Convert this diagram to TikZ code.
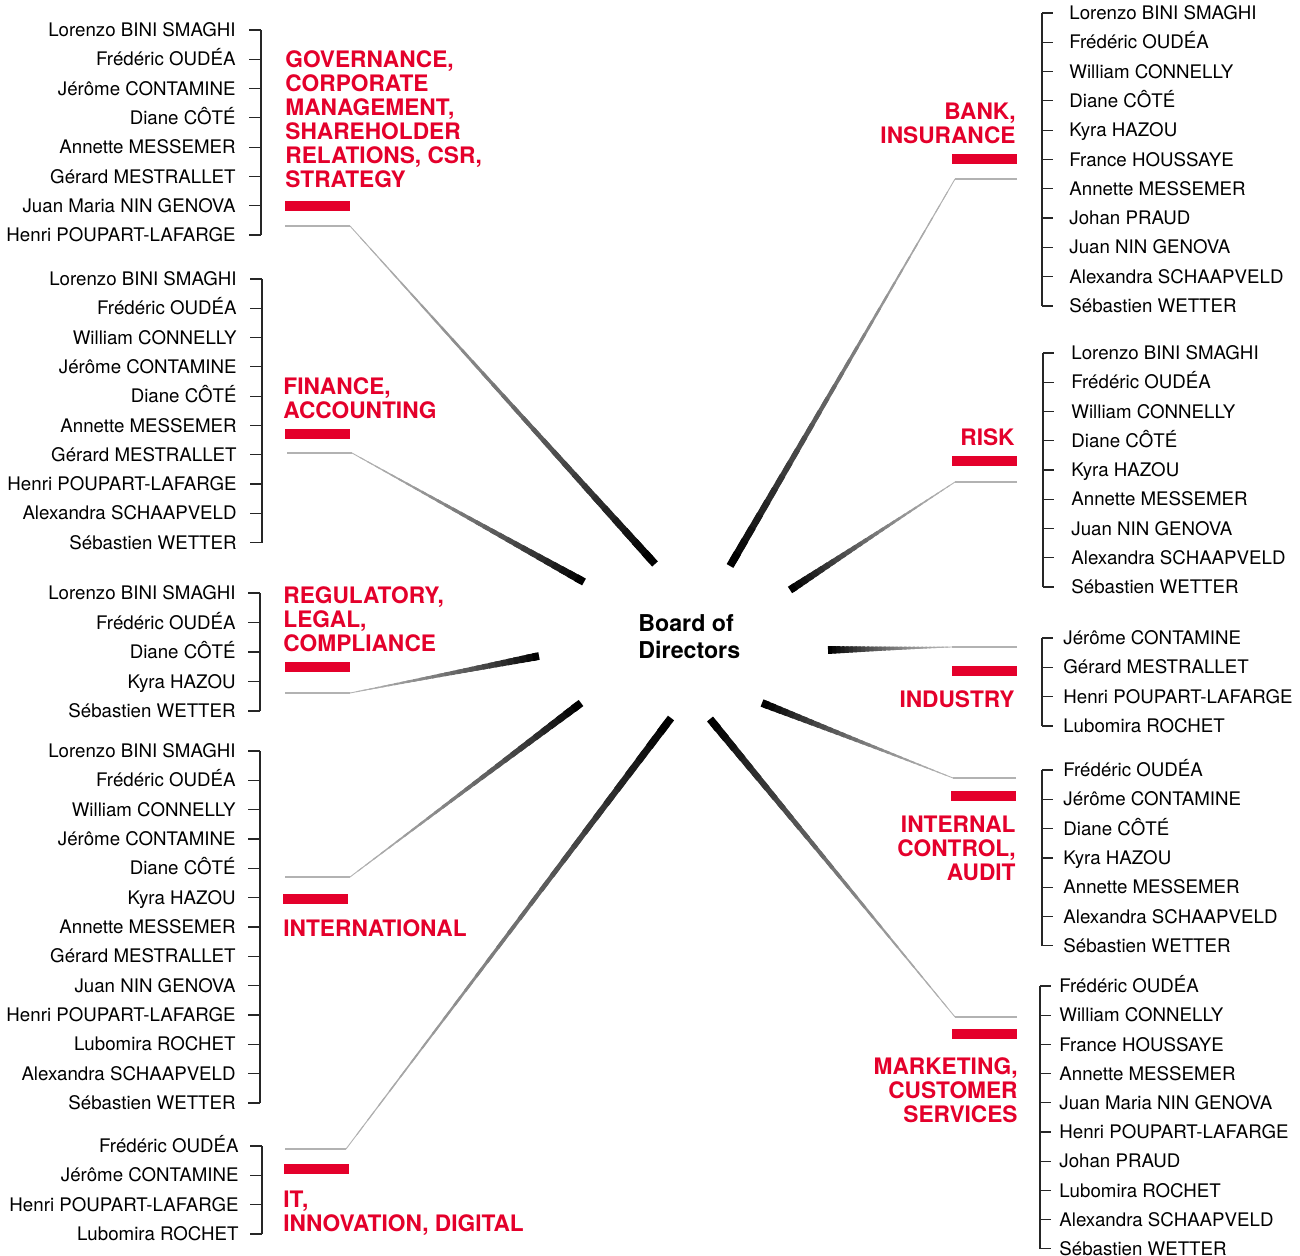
\documentclass[tikz,border=0pt]{standalone}
\usepackage{fontspec}
\setmainfont{TeX Gyre Heros}
\usetikzlibrary{calc}
\definecolor{sgred}{HTML}{E4002B}
\newcommand{\namefont}{\fontsize{9.35}{11}\selectfont}
\newcommand{\headfont}{\fontsize{11.35}{12}\selectfont\bfseries}
\newcommand{\boardfont}{\fontsize{11.6}{13.5}\selectfont\bfseries}

\begin{document}
\begin{tikzpicture}[x=0.5pt,y=-0.5pt,
  namel/.style={anchor=base east,inner sep=0pt,font=\namefont},
  namer/.style={anchor=base west,inner sep=0pt,font=\namefont},
  headl/.style={anchor=north west,align=left,inner sep=0pt,text=sgred,font=\headfont},
  headr/.style={anchor=north east,align=right,inner sep=0pt,text=sgred,font=\headfont},
  redbar/.style={fill=sgred,minimum width=32.5pt,minimum height=5pt,inner sep=0pt},
  feed/.style={black!30,line width=0.7pt},
  brack/.style={black!85,line width=0.6pt}]
\useasboundingbox (0,0) rectangle (1300,1256);

% board
\node[anchor=north west,align=left,inner sep=0pt,font=\boardfont] (board) at (638,614) {Board of\\Directors};

% committees, left side
\node[redbar] (gov-bar) at (317.5,206) {};
\node[headl] (gov-head) at (285,50) {GOVERNANCE,\\CORPORATE\\MANAGEMENT,\\SHAREHOLDER\\RELATIONS, CSR,\\STRATEGY};
\coordinate (gov-s) at (285,226);
\coordinate (gov-k) at (350,226);
\coordinate (gov-h) at (655,564);

\node[redbar] (fin-bar) at (317.5,434) {};
\node[headl] (fin-head) at (283,377) {FINANCE,\\ACCOUNTING};
\coordinate (fin-s) at (287,453);
\coordinate (fin-k) at (352,453);
\coordinate (fin-h) at (584,582);

\node[redbar] (reg-bar) at (317.5,667) {};
\node[headl] (reg-head) at (283,586) {REGULATORY,\\LEGAL,\\COMPLIANCE};
\coordinate (reg-s) at (285,693);
\coordinate (reg-k) at (350,693);
\coordinate (reg-h) at (539,656);

\node[redbar] (int-bar) at (315.5,899) {};
\node[headl] (int-head) at (283,919) {INTERNATIONAL};
\coordinate (int-s) at (285,877);
\coordinate (int-k) at (350,877);
\coordinate (int-h) at (581,703);

\node[redbar] (it-bar) at (316,1169) {};
\node[headl] (it-head) at (283,1191) {IT,\\INNOVATION, DIGITAL};
\coordinate (it-s) at (285,1149);
\coordinate (it-k) at (346,1149);
\coordinate (it-h) at (671,718);

% committees, right side
\node[redbar] (bank-bar) at (984.5,159) {};
\node[headr] (bank-head) at (1016,103) {BANK,\\INSURANCE};
\coordinate (bank-s) at (1017,179);
\coordinate (bank-k) at (955,179);
\coordinate (bank-h) at (730,566);

\node[redbar] (risk-bar) at (984.5,461) {};
\node[headr] (risk-head) at (1015,428) {RISK};
\coordinate (risk-s) at (1017,482);
\coordinate (risk-k) at (955,482);
\coordinate (risk-h) at (790,590);

\node[redbar] (ind-bar) at (984.5,671) {};
\node[headr] (ind-head) at (1015,690) {INDUSTRY};
\coordinate (ind-s) at (1017,647);
\coordinate (ind-k) at (952,647);
\coordinate (ind-h) at (828,650);

\node[redbar] (aud-bar) at (983.5,796) {};
\node[headr] (aud-head) at (1016,816) {INTERNAL\\CONTROL,\\AUDIT};
\coordinate (aud-s) at (1016,778);
\coordinate (aud-k) at (953,778);
\coordinate (aud-h) at (762,703);

\node[redbar] (mkt-bar) at (984.5,1034) {};
\node[headr] (mkt-head) at (1018,1057) {MARKETING,\\CUSTOMER\\SERVICES};
\coordinate (mkt-s) at (1017,1017);
\coordinate (mkt-k) at (955,1017);
\coordinate (mkt-h) at (710,719);

% spokes, light and thin outside, dark and thick at the board
\foreach \c in {gov,fin,reg,int,it,bank,risk,ind,aud,mkt}{
  \draw[feed] (\c-s) -- (\c-k);
  \foreach \k in {0,...,29}{
    \pgfmathsetmacro\ta{\k/30}
    \pgfmathsetmacro\tb{min(1,(\k+1.6)/30)}
    \pgfmathsetmacro\lw{0.45+3.4*(\k/29)^1.3}
    \pgfmathsetmacro\dk{30+70*(\k/29)^1.5}
    \draw[line width=\lw pt,black!\dk] ($(\c-k)!\ta!(\c-h)$) -- ($(\c-k)!\tb!(\c-h)$);
  }
}

% members, left side
\foreach \n [count=\i from 0] in {Lorenzo BINI SMAGHI, Frédéric OUDÉA, Jérôme CONTAMINE, Diane CÔTÉ,
  Annette MESSEMER, Gérard MESTRALLET, Juan Maria NIN GENOVA, Henri POUPART-LAFARGE}{
  \node[namel] (gov-m\i) at (236,{36.6+29.3*\i}) {\n};
  \draw[brack] (249,{30+29.3*\i}) -- (261,{30+29.3*\i});
}
\draw[brack] (261,30) -- (261,235.1);

\foreach \n [count=\i from 0] in {Lorenzo BINI SMAGHI, Frédéric OUDÉA, William CONNELLY, Jérôme CONTAMINE,
  Diane CÔTÉ, Annette MESSEMER, Gérard MESTRALLET, Henri POUPART-LAFARGE, Alexandra SCHAAPVELD, Sébastien WETTER}{
  \node[namel] (fin-m\i) at (237,{285.6+29.3*\i}) {\n};
  \draw[brack] (250,{279+29.3*\i}) -- (262,{279+29.3*\i});
}
\draw[brack] (262,279) -- (262,542.7);

\foreach \n [count=\i from 0] in {Lorenzo BINI SMAGHI, Frédéric OUDÉA, Diane CÔTÉ, Kyra HAZOU, Sébastien WETTER}{
  \node[namel] (reg-m\i) at (236,{599.6+29.5*\i}) {\n};
  \draw[brack] (248,{593+29.5*\i}) -- (260,{593+29.5*\i});
}
\draw[brack] (260,593) -- (260,711);

\foreach \n [count=\i from 0] in {Lorenzo BINI SMAGHI, Frédéric OUDÉA, William CONNELLY, Jérôme CONTAMINE,
  Diane CÔTÉ, Kyra HAZOU, Annette MESSEMER, Gérard MESTRALLET, Juan NIN GENOVA, Henri POUPART-LAFARGE,
  Lubomira ROCHET, Alexandra SCHAAPVELD, Sébastien WETTER}{
  \node[namel] (int-m\i) at (236,{757.6+29.33*\i}) {\n};
  \draw[brack] (248,{751+29.33*\i}) -- (260,{751+29.33*\i});
}
\draw[brack] (260,751) -- (260,1103);

\foreach \n [count=\i from 0] in {Frédéric OUDÉA, Jérôme CONTAMINE, Henri POUPART-LAFARGE, Lubomira ROCHET}{
  \node[namel] (it-m\i) at (239,{1152.6+29.33*\i}) {\n};
  \draw[brack] (250,{1146+29.33*\i}) -- (262,{1146+29.33*\i});
}
\draw[brack] (262,1146) -- (262,1234);

% members, right side
\foreach \n [count=\i from 0] in {Lorenzo BINI SMAGHI, Frédéric OUDÉA, William CONNELLY, Diane CÔTÉ, Kyra HAZOU,
  France HOUSSAYE, Annette MESSEMER, Johan PRAUD, Juan NIN GENOVA, Alexandra SCHAAPVELD, Sébastien WETTER}{
  \node[namer] (bank-m\i) at (1069,{19.6+29.3*\i}) {\n};
  \draw[brack] (1042,{13+29.3*\i}) -- (1053,{13+29.3*\i});
}
\draw[brack] (1042,13) -- (1042,306);

\foreach \n [count=\i from 0] in {Lorenzo BINI SMAGHI, Frédéric OUDÉA, William CONNELLY, Diane CÔTÉ, Kyra HAZOU,
  Annette MESSEMER, Juan NIN GENOVA, Alexandra SCHAAPVELD, Sébastien WETTER}{
  \node[namer] (risk-m\i) at (1071,{359.6+29.25*\i}) {\n};
  \draw[brack] (1043,{353+29.25*\i}) -- (1054,{353+29.25*\i});
}
\draw[brack] (1043,353) -- (1043,587);

\foreach \n [count=\i from 0] in {Jérôme CONTAMINE, Gérard MESTRALLET, Henri POUPART-LAFARGE, Lubomira ROCHET}{
  \node[namer] (ind-m\i) at (1063,{644.6+29.3*\i}) {\n};
  \draw[brack] (1042,{638+29.3*\i}) -- (1053,{638+29.3*\i});
}
\draw[brack] (1042,638) -- (1042,725.9);

\foreach \n [count=\i from 0] in {Frédéric OUDÉA, Jérôme CONTAMINE, Diane CÔTÉ, Kyra HAZOU, Annette MESSEMER,
  Alexandra SCHAAPVELD, Sébastien WETTER}{
  \node[namer] (aud-m\i) at (1063,{776.6+29.3*\i}) {\n};
  \draw[brack] (1042,{770+29.3*\i}) -- (1053,{770+29.3*\i});
}
\draw[brack] (1042,770) -- (1042,945.8);

\foreach \n [count=\i from 0] in {Frédéric OUDÉA, William CONNELLY, France HOUSSAYE, Annette MESSEMER,
  Juan Maria NIN GENOVA, Henri POUPART-LAFARGE, Johan PRAUD, Lubomira ROCHET, Alexandra SCHAAPVELD, Sébastien WETTER}{
  \node[namer] (mkt-m\i) at (1059,{992.6+29.2*\i}) {\n};
  \draw[brack] (1040,{986+29.2*\i}) -- (1051,{986+29.2*\i});
}
\draw[brack] (1040,986) -- (1040,1248.8);
\end{tikzpicture}
\end{document}
